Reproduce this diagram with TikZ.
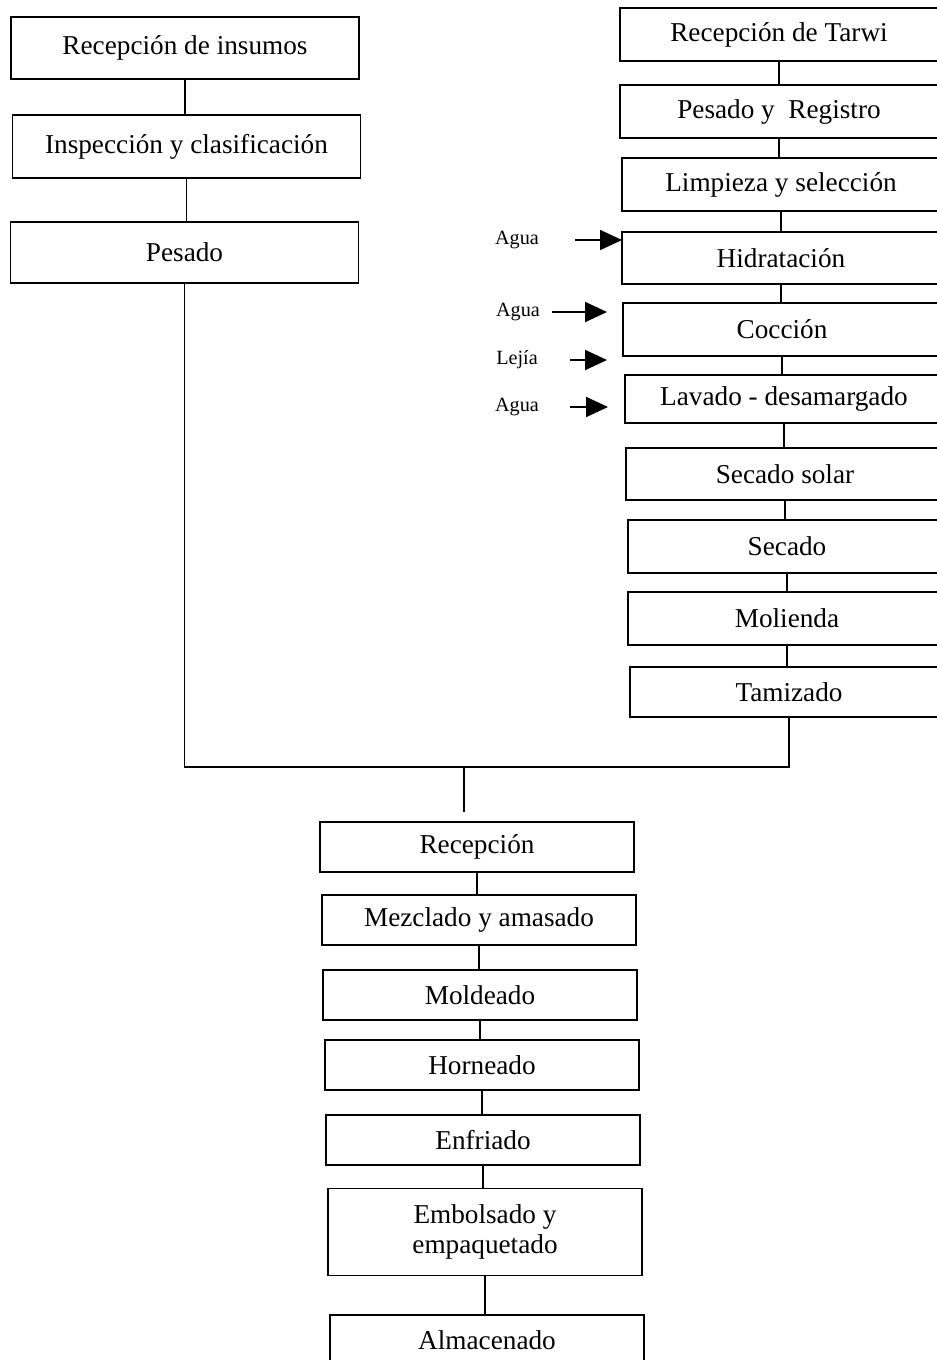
\documentclass[tikz,border=0pt]{standalone}
\usepackage{fontspec}
\setmainfont{Liberation Serif}
\usetikzlibrary{arrows.meta}
\begin{document}
\begin{tikzpicture}[x=0.02cm,y=-0.02cm,line width=0.9pt,
  caja/.style={draw,inner sep=0pt,align=center,font=\fontsize{15.5}{17.5}\selectfont},
  izq/.style={caja,minimum width=6.96cm,minimum height=1.24cm},
  der/.style={caja,minimum width=6.36cm,minimum height=1.06cm},
  baj/.style={caja,minimum width=6.28cm,minimum height=1cm},
  ent/.style={font=\fontsize{11.5}{13}\selectfont},
  flecha/.style={line width=1.1pt,-{Triangle[length=0.44cm,width=0.4cm]}}]
\clip (0,0) rectangle (937,1360);
% insumos
\node[izq](i1) at (185,48) {Recepción de insumos};
\node[izq,minimum height=1.26cm](i2) at (186.5,146.5) {Inspección y clasificación};
\node[izq,minimum height=1.22cm](i3) at (184.5,252.5) {Pesado};
\draw (i1.south) -- (i1.south |- i2.north);
\draw (i2.south) -- (i2.south |- i3.north);
% tarwi
\node[der](t1) at (779,34.5) {Recepción de Tarwi};
\node[der](t2) at (779,111.5) {Pesado y\ \ Registro};
\node[der](t3) at (781,184.5) {Limpieza y selección};
\node[der,minimum height=1.04cm](t4) at (781,258) {Hidratación};
\node[der](t5) at (782,329.5) {Cocción};
\node[der,minimum height=0.96cm](t6) at (784,399) {Lavado - desamargado};
\node[der,minimum height=1.04cm](t7) at (785,474) {Secado solar};
\node[der](t8) at (787,546.5) {Secado};
\node[der](t9) at (787,618.5) {Molienda};
\node[der,minimum height=1cm](t10) at (789,692) {Tamizado};
\foreach \a/\b in {t1/t2,t2/t3,t3/t4,t4/t5,t5/t6,t6/t7,t7/t8,t8/t9,t9/t10}
  \draw (\a.south) -- (\a.south |- \b.north);
% entradas
\node[ent](ag1) at (517,240) {Agua};
\node[ent](ag2) at (518,312) {Agua};
\node[ent](lj) at (517,360) {Lejía};
\node[ent](ag3) at (517,407) {Agua};
\coordinate (s1) at (575,240); \coordinate (e1) at (622,240);
\coordinate (s2) at (552,312); \coordinate (e2) at (607,312);
\coordinate (s3) at (570,360); \coordinate (e3) at (607,360);
\coordinate (s4) at (570,407); \coordinate (e4) at (608,407);
\draw[flecha] (s1) -- (e1); \draw[flecha] (s2) -- (e2);
\draw[flecha] (s3) -- (e3); \draw[flecha] (s4) -- (e4);
% union
\coordinate (mj) at (464,767); \coordinate (mk) at (464,812);
\draw (i3.south) |- (mj) -| (t10.south);
\draw (mj) -- (mk);
% galletas
\node[baj](p1) at (477,847) {Recepción};
\node[baj](p2) at (479,920) {Mezclado y amasado};
\node[baj](p3) at (480,995) {Moldeado};
\node[baj](p4) at (482,1065) {Horneado};
\node[baj](p5) at (483,1140) {Enfriado};
\node[baj,minimum height=1.74cm](p6) at (485,1232) {Embolsado y\\empaquetado};
\node[baj](p7) at (487,1340) {Almacenado};
\foreach \a/\b in {p1/p2,p2/p3,p3/p4,p4/p5,p5/p6,p6/p7}
  \draw (\a.south) -- (\a.south |- \b.north);
\end{tikzpicture}
\end{document}
